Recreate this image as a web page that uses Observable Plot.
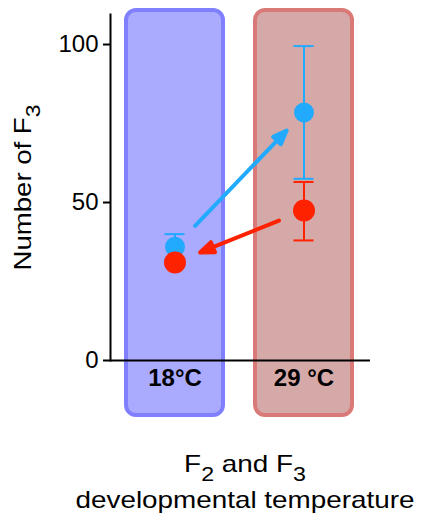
<!DOCTYPE html>
<html>
<head>
<meta charset="utf-8">
<script src="https://cdn.jsdelivr.net/npm/d3@7"></script>
<script src="https://cdn.jsdelivr.net/npm/@observablehq/plot@0.6"></script>
<style>
  html, body { margin: 0; padding: 0; background: #fff; }
  body { width: 422px; height: 521px; overflow: hidden; font-family: "Liberation Sans", Arial, sans-serif; }
  #title { margin-left: 70px; width: 350px; margin-top: 16px; text-align: center; font-size: 24px; color: #000;
           transform: scaleX(1.16); transform-origin: 50% 50%; }
  #title div { line-height: 36px; height: 36px; white-space: nowrap; }
  #title .sub { font-size: 20px; vertical-align: -9px; line-height: 0; }
</style>
</head>
<body>
<div id="chart"></div>
<div id="title"><div>F<span class="sub">2</span> and F<span class="sub">3</span></div><div>developmental temperature</div></div>
<script>
// ---- data ----
const temps = ["18°C", "29 °C"];
const blueMean = [36, 78.5];
const blueLow = [32, 57.5];
const blueHigh = [40, 99.5];
const redMean = [31, 47.5];
const redLow = [30.5, 38];
const redHigh = [31.5, 56.5];
const yTicks = [0, 50, 100];
const yLabel = "Number of F";
const yLabelSub = "3";

// ---- tables built from the arrays ----
const blue = temps.map((t, i) => ({temp: t, mean: blueMean[i], low: blueLow[i], high: blueHigh[i]}));
const red = temps.map((t, i) => ({temp: t, mean: redMean[i], low: redLow[i], high: redHigh[i]}));
const blueArrow = [{x1: temps[0], y1: blueMean[0], x2: temps[1], y2: blueMean[1]}];
const redArrow = [{x1: temps[1], y1: redMean[1], x2: temps[0], y2: redMean[0]}];

const BLUE = "#22aaff", RED = "#ff2200";
const boxes = [
  {temp: temps[0], fill: "#aaaaff", stroke: "#8080ff"},
  {temp: temps[1], fill: "#d6a9a9", stroke: "#d97a78"}
];
const boxTop = 110.8, boxBottom = -17.4;

const plot = Plot.plot({
  width: 422,
  height: 430,
  marginTop: 14,
  marginBottom: 70,
  marginLeft: 110,
  marginRight: 52,
  style: {fontFamily: "'Liberation Sans', Arial, sans-serif", color: "#000", background: "transparent"},
  x: {type: "band", domain: temps, range: [125, 353], paddingInner: 0.246, paddingOuter: 0, axis: null},
  y: {domain: [0, 109.5], axis: null},
  marks: [
    ...boxes.map(b => Plot.barY([b], {x: "temp", y1: boxBottom, y2: boxTop, fill: b.fill, stroke: b.stroke, strokeWidth: 4, rx: 10})),
    Plot.frame({anchor: "left", stroke: "#000", strokeWidth: 2}),
    Plot.ruleY([0], {stroke: "#000", strokeWidth: 2}),
    Plot.axisY({ticks: yTicks, tickSize: 7, tickPadding: 5, fontSize: 24, strokeWidth: 2, label: null, tickFormat: d => String(d)}),
    Plot.axisX({tickSize: 0, tickPadding: 8, fontSize: 24, fontWeight: "bold", label: null}),
    Plot.ruleX(blue, {x: "temp", y1: "low", y2: "high", stroke: BLUE, strokeWidth: 2}),
    Plot.tickY(blue, {x: "temp", y: "high", stroke: BLUE, strokeWidth: 2, insetLeft: 38.5, insetRight: 38.5}),
    Plot.tickY(blue, {x: "temp", y: "low", stroke: BLUE, strokeWidth: 2, insetLeft: 38.5, insetRight: 38.5}),
    Plot.ruleX(red, {x: "temp", y1: "low", y2: "high", stroke: RED, strokeWidth: 2}),
    Plot.tickY(red, {x: "temp", y: "high", stroke: RED, strokeWidth: 2, insetLeft: 38.5, insetRight: 38.5}),
    Plot.tickY(red, {x: "temp", y: "low", stroke: RED, strokeWidth: 2, insetLeft: 38.5, insetRight: 38.5}),
    Plot.dot(blue, {x: "temp", y: "mean", r: 10, fill: BLUE}),
    Plot.dot(red, {x: "temp", y: "mean", r: 11, fill: RED}),
    Plot.arrow(blueArrow, {x1: "x1", y1: "y1", x2: "x2", y2: "y2", stroke: BLUE, strokeWidth: 4,
      headLength: 5.6, headAngle: 42, insetStart: 29, insetEnd: 25, className: "farrow"}),
    Plot.arrow(redArrow, {x1: "x1", y1: "y1", x2: "x2", y2: "y2", stroke: RED, strokeWidth: 4,
      headLength: 5.6, headAngle: 42, insetStart: 27, insetEnd: 27, className: "farrow"}),
    Plot.text([yLabel], {frameAnchor: "left", text: d => d, rotate: -90, dx: -87, fontSize: 24,
      textAnchor: "middle", lineAnchor: "middle", className: "ylab"})
  ]
});
document.getElementById("chart").appendChild(plot);

// filled arrowheads: turn Plot's open head into a closed, filled triangle
plot.querySelectorAll(".farrow path").forEach(p => {
  const d = p.getAttribute("d");
  if (!d) return;
  const n = d.match(/-?\d*\.?\d+(?:e[-+]?\d+)?/gi).map(Number);
  if (n.length < 10) return;
  const [x1, y1, , , hx1, hy1, tx, ty, hx2, hy2] = n;
  const bx = (hx1 + hx2) / 2, by = (hy1 + hy2) / 2;
  p.setAttribute("d", `M${x1},${y1}L${bx},${by}M${hx1},${hy1}L${tx},${ty}L${hx2},${hy2}Z`);
  const col = p.getAttribute("stroke") || p.parentNode.getAttribute("stroke");
  p.setAttribute("fill", col);
  p.setAttribute("stroke-linejoin", "round");
});

// y-axis label with subscript
const t = plot.querySelector(".ylab text");
if (t) {
  const ts = document.createElementNS("http://www.w3.org/2000/svg", "tspan");
  ts.setAttribute("dy", "9");
  ts.setAttribute("font-size", "20");
  ts.textContent = yLabelSub;
  t.appendChild(ts);
  t.setAttribute("textLength", "166");
  t.setAttribute("lengthAdjust", "spacingAndGlyphs");
}
</script>
</body>
</html>
